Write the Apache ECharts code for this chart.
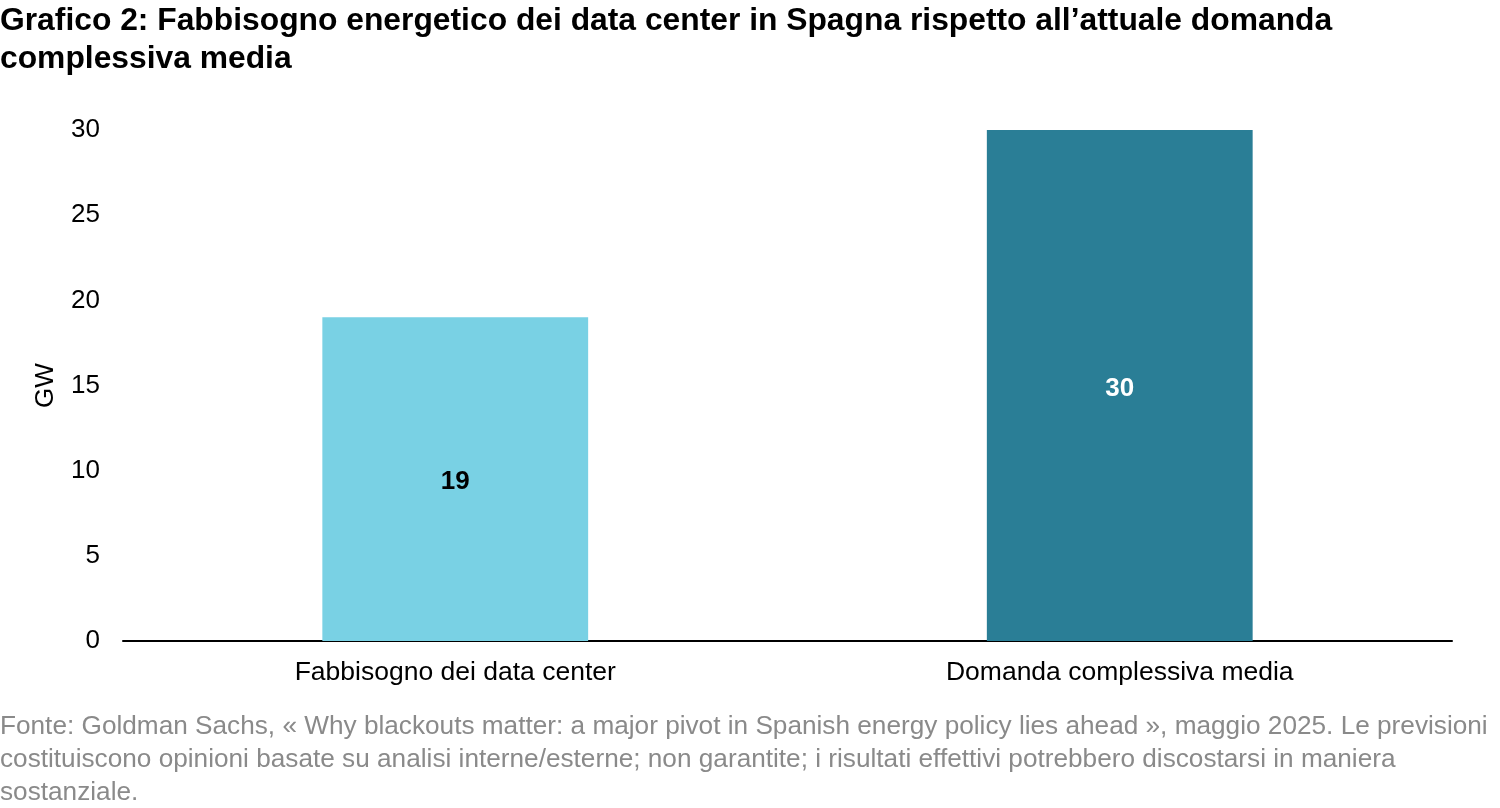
<!DOCTYPE html>
<html>
<head>
<meta charset="utf-8">
<script src="https://cdn.jsdelivr.net/npm/echarts@6/dist/echarts.min.js"></script>
<style>
  html, body { margin: 0; padding: 0; background: #fff; }
  #chart { width: 1500px; height: 808px; }
</style>
</head>
<body>
<div id="chart"></div>
<script>
const categories = ['Fabbisogno dei data center', 'Domanda complessiva media']
const values = [19, 30]
const barColors = ['#79d1e4', '#2a7e96']
const labelColors = ['#000000', '#ffffff']

const titleText = 'Grafico 2: Fabbisogno energetico dei data center in Spagna rispetto all\u2019attuale domanda\ncomplessiva media'
const sourceText = 'Fonte: Goldman Sachs, \u00ab Why blackouts matter: a major pivot in Spanish energy policy lies ahead \u00bb, maggio 2025. Le previsioni\ncostituiscono opinioni basate su analisi interne/esterne; non garantite; i risultati effettivi potrebbero discostarsi in maniera\nsostanziale.'

const font = '"Liberation Sans", Arial, sans-serif'

const chart = echarts.init(document.getElementById('chart'))
chart.setOption({
  animation: false,
  title: [
    {
      text: titleText,
      left: 0,
      top: 2,
      padding: 0,
      textStyle: { fontFamily: font, fontSize: 31.8, fontWeight: 'bold', color: '#000', lineHeight: 38 },
    },
    {
      text: sourceText,
      left: 0,
      top: 710,
      padding: 0,
      textStyle: { fontFamily: font, fontSize: 26.2, fontWeight: 'normal', color: '#8a8a8a', lineHeight: 33 },
    },
  ],
  grid: { left: 123, right: 48, top: 130, bottom: 167 },
  xAxis: {
    type: 'category',
    data: categories,
    axisTick: { show: false },
    axisLine: { lineStyle: { color: '#000', width: 2 } },
    axisLabel: { color: '#000', fontFamily: font, fontSize: 26.5, margin: 18 },
  },
  yAxis: {
    type: 'value',
    min: 0,
    max: 30,
    interval: 5,
    name: 'GW',
    nameLocation: 'middle',
    nameGap: 64,
    nameTextStyle: { color: '#000', fontFamily: font, fontSize: 26 },
    axisLine: { show: false },
    axisTick: { show: false },
    splitLine: { show: false },
    axisLabel: { color: '#000', fontFamily: font, fontSize: 26, margin: 23 },
  },
  series: [{
    type: 'bar',
    barWidth: '40%',
    data: values.map((v, i) => ({
      value: v,
      itemStyle: { color: barColors[i] },
      label: { color: labelColors[i] },
    })),
    label: {
      show: true,
      position: 'inside',
      offset: [0, 3],
      fontFamily: font,
      fontSize: 26,
      fontWeight: 'bold',
    },
  }],
})
</script>
</body>
</html>
